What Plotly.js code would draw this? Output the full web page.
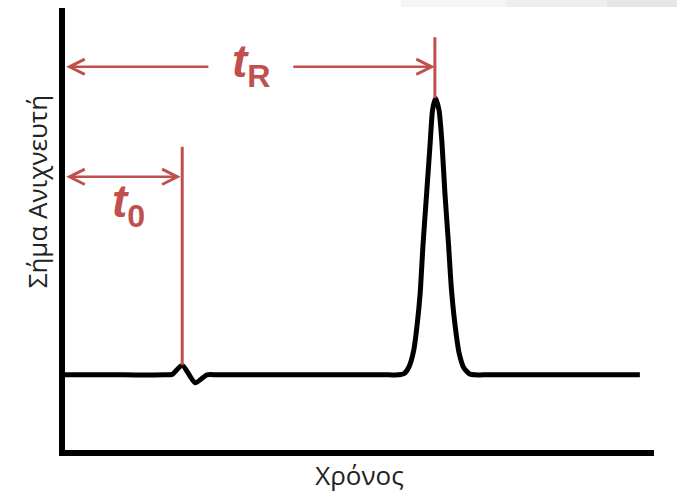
<!DOCTYPE html>
<html>
<head>
<meta charset="utf-8">
<script src="https://cdn.plot.ly/plotly-3.0.1.min.js"></script>
<style>html,body{margin:0;padding:0;background:#fff;}#chart{width:677px;height:496px;}</style>
</head>
<body>
<div id="chart"></div>
<script>
// Chromatogram (time in arbitrary units, detector signal 0..1)
const timeVals = [0, 1.0, 1.70, 1.82, 1.99, 2.21, 2.41, 2.60, 4.0, 5.50, 5.66, 5.76, 5.84, 5.92, 5.98, 6.03, 6.08, 6.14, 6.20, 6.24, 6.29, 6.35, 6.40, 6.45, 6.51, 6.56, 6.62, 6.69, 6.77, 6.87, 6.97, 7.10, 8.5, 9.76];
const signalVals = [0.170, 0.170, 0.170, 0.171, 0.192, 0.152, 0.170, 0.170, 0.170, 0.170, 0.170, 0.173, 0.188, 0.225, 0.285, 0.355, 0.468, 0.581, 0.695, 0.769, 0.796, 0.769, 0.695, 0.581, 0.468, 0.365, 0.285, 0.220, 0.186, 0.172, 0.170, 0.170, 0.170, 0.170];

// Marked times
const t0Time = 1.99;      // dead time (unretained peak)
const tRTime = 6.28;      // retention time (peak apex)
const t0Signal = 0.192;
const tRSignal = 0.796;

const xTitle = 'Χρόνος';
const yTitle = 'Σήμα Ανιχνευτή';
const t0Label = '<b><i>t</i><sub>0</sub></b>';
const tRLabel = '<b><i>t</i><sub>R</sub></b>';

const red = '#C0504D';

const trace = {
  x: timeVals, y: signalVals, type: 'scatter', mode: 'lines',
  line: {color: '#000', width: 5, shape: 'spline', smoothing: 0.6},
  hoverinfo: 'skip'
};

const layout = {
  width: 677, height: 496,
  margin: {l: 65, r: 23, t: 8, b: 46},
  paper_bgcolor: '#fff', plot_bgcolor: '#fff',
  showlegend: false,
  xaxis: {
    range: [0, 10], showgrid: false, zeroline: false, showticklabels: false, ticks: '',
    showline: true, linecolor: '#000', linewidth: 6,
    title: {text: xTitle, font: {family: 'Open Sans, sans-serif', size: 26, color: '#222'}, standoff: 14}
  },
  yaxis: {
    range: [0, 1], showgrid: false, zeroline: false, showticklabels: false, ticks: '',
    showline: true, linecolor: '#000', linewidth: 6
  },
  shapes: [
    {type: 'line', xref: 'x', yref: 'y', x0: t0Time, x1: t0Time, y0: t0Signal, y1: 0.686, line: {color: red, width: 3}},
    {type: 'line', xref: 'x', yref: 'y', x0: tRTime, x1: tRTime, y0: tRSignal, y1: 0.934, line: {color: red, width: 3}},
    {type: 'rect', xref: 'paper', yref: 'paper', x0: 0.57, x1: 1.05, y0: 1.002, y1: 1.02, fillcolor: '#f5f5f5', line: {width: 0}, layer: 'below'},
    {type: 'rect', xref: 'paper', yref: 'paper', x0: 0.75, x1: 1.05, y0: 1.002, y1: 1.02, fillcolor: '#eeeeee', line: {width: 0}, layer: 'below'},
    {type: 'rect', xref: 'paper', yref: 'paper', x0: 0.92, x1: 1.05, y0: 1.002, y1: 1.02, fillcolor: '#e6e6e6', line: {width: 0}, layer: 'below'}
  ],
  annotations: [
    // t0 double arrow
    {xref: 'x', yref: 'y', axref: 'x', ayref: 'y', x: 0.02, y: 0.618, ax: t0Time, ay: 0.618, text: '',
     showarrow: true, arrowside: 'end+start', arrowhead: 5, startarrowhead: 5, arrowsize: 1.2, startarrowsize: 1.2,
     arrowwidth: 2.5, arrowcolor: red, standoff: 0, startstandoff: 0},
    // tR arrows
    {xref: 'x', yref: 'y', axref: 'x', ayref: 'y', x: 0.02, y: 0.867, ax: 2.46, ay: 0.867, text: '',
     showarrow: true, arrowhead: 5, arrowsize: 1.2, arrowwidth: 2.5, arrowcolor: red, standoff: 0},
    {xref: 'x', yref: 'y', axref: 'x', ayref: 'y', x: tRTime, y: 0.867, ax: 3.85, ay: 0.867, text: '',
     showarrow: true, arrowhead: 5, arrowsize: 1.2, arrowwidth: 2.5, arrowcolor: red, standoff: 0},
    // labels
    {xref: 'x', yref: 'y', x: 3.17, y: 0.872, text: tRLabel, showarrow: false,
     font: {family: 'Liberation Sans, Arial, sans-serif', size: 46, color: red}},
    {xref: 'x', yref: 'y', x: 1.07, y: 0.555, text: t0Label, showarrow: false,
     font: {family: 'Liberation Sans, Arial, sans-serif', size: 46, color: red}},
    // y title
    {xref: 'paper', yref: 'paper', x: -0.046, y: 0.585, xanchor: 'center', yanchor: 'middle', textangle: -90,
     text: yTitle, showarrow: false, font: {family: 'Open Sans, sans-serif', size: 26, color: '#222'}}
  ]
};

Plotly.newPlot('chart', [trace], layout, {displayModeBar: false, staticPlot: true});
</script>
</body>
</html>
